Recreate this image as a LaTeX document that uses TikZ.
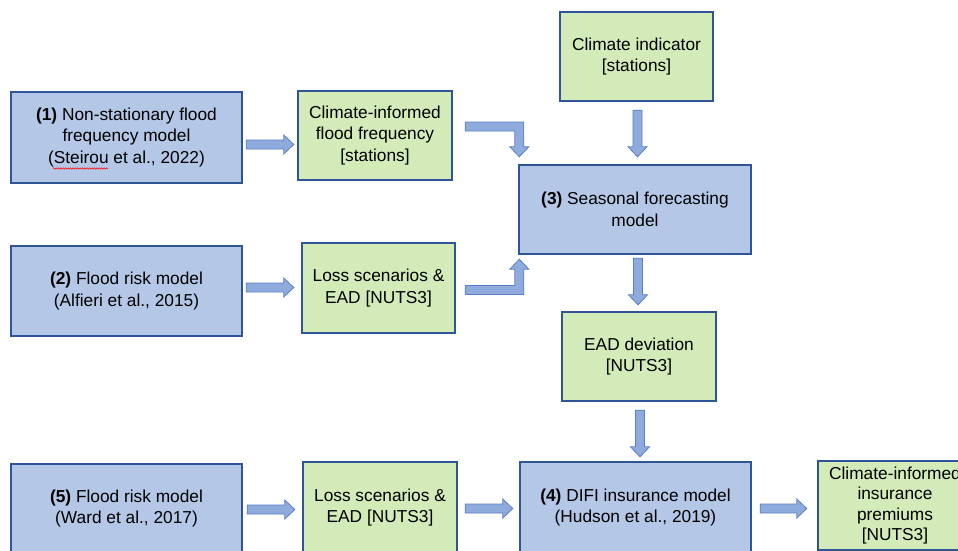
\documentclass[tikz,border=0pt]{standalone}
\usepackage{fontspec}
\setmainfont{Liberation Sans}
\usetikzlibrary{calc,decorations.pathmorphing}
\definecolor{bluefill}{HTML}{B4C7E7}
\definecolor{blueline}{HTML}{2F5597}
\definecolor{greenfill}{HTML}{D3EBB8}
\definecolor{arrowfill}{HTML}{8FAADC}
\definecolor{arrowline}{HTML}{5A7EC6}
\tikzset{
  box/.style={draw=blueline, line width=2.4pt, rectangle, align=center, inner sep=0pt,
    font=\fontsize{17.3}{21.5}\selectfont},
  bluebox/.style={box, fill=bluefill},
  greenbox/.style={box, fill=greenfill},
  barrow/.style={fill=arrowfill, draw=arrowline, line width=0.8pt, line join=miter},
}
% horizontal block arrow: #1 start on axis, #2 tip (x used)
\newcommand\harrow[2]{%
  \filldraw[barrow] let \p1=(#1), \p2=(#2) in
   (\x1,\y1+4.5pt) -- (\x2-10pt,\y1+4.5pt) -- (\x2-10pt,\y1+9.5pt) -- (\x2,\y1)
   -- (\x2-10pt,\y1-9.5pt) -- (\x2-10pt,\y1-4.5pt) -- (\x1,\y1-4.5pt) -- cycle;}
% vertical block arrow down: #1 start on axis, #2 tip (y used)
\newcommand\varrow[2]{%
  \filldraw[barrow] let \p1=(#1), \p2=(#2) in
   (\x1-4.5pt,\y1) -- (\x1-4.5pt,\y2+10pt) -- (\x1-9.5pt,\y2+10pt) -- (\x1,\y2)
   -- (\x1+9.5pt,\y2+10pt) -- (\x1+4.5pt,\y2+10pt) -- (\x1+4.5pt,\y1) -- cycle;}
% elbow arrow: right then down
\newcommand\earrowdown[2]{%
  \filldraw[barrow] let \p1=(#1), \p2=(#2) in
   (\x1,\y1+4.5pt) -- (\x2+4.5pt,\y1+4.5pt) -- (\x2+4.5pt,\y2+10pt) -- (\x2+9.5pt,\y2+10pt)
   -- (\x2,\y2) -- (\x2-9.5pt,\y2+10pt) -- (\x2-4.5pt,\y2+10pt) -- (\x2-4.5pt,\y1-4.5pt)
   -- (\x1,\y1-4.5pt) -- cycle;}
% elbow arrow: right then up
\newcommand\earrowup[2]{%
  \filldraw[barrow] let \p1=(#1), \p2=(#2) in
   (\x1,\y1-4.5pt) -- (\x2+4.5pt,\y1-4.5pt) -- (\x2+4.5pt,\y2-10pt) -- (\x2+9.5pt,\y2-10pt)
   -- (\x2,\y2) -- (\x2-9.5pt,\y2-10pt) -- (\x2-4.5pt,\y2-10pt) -- (\x2-4.5pt,\y1+4.5pt)
   -- (\x1,\y1+4.5pt) -- cycle;}
\begin{document}
\begin{tikzpicture}[x=1pt,y=-1pt]
\useasboundingbox (0,0) rectangle (958,550);
\fill[white] (0,0) rectangle (958,550);
\clip (0,0) rectangle (958,550);

\node[bluebox, minimum width=231pt, minimum height=91pt] (m1) at (126.5,137.5)
  {\textbf{(1)} Non-stationary flood\\frequency model\\(Steirou et al., 2022)};
\node[greenbox, minimum width=154pt, minimum height=89pt] (ci1) at (375,135.5)
  {Climate-informed\\flood frequency\\{[stations]}};
\node[greenbox, minimum width=153pt, minimum height=89pt] (cind) at (636.5,56.5)
  {Climate indicator\\{[stations]}};
\node[bluebox, minimum width=232pt, minimum height=89pt] (m3) at (635,209.5)
  {\textbf{(3)} Seasonal forecasting\\model};
\node[bluebox, minimum width=231pt, minimum height=90pt] (m2) at (126.5,291)
  {\textbf{(2)} Flood risk model\\(Alfieri et al., 2015)};
\node[greenbox, minimum width=153pt, minimum height=90pt] (ls1) at (378.5,288)
  {Loss scenarios \&\\EAD [NUTS3]};
\node[greenbox, minimum width=154pt, minimum height=89pt] (ead) at (639,356.5)
  {EAD deviation\\{[NUTS3]}};
\node[bluebox, minimum width=231pt, minimum height=89pt] (m5) at (126.5,508.5)
  {\textbf{(5)} Flood risk model\\(Ward et al., 2017)};
\node[greenbox, minimum width=154pt, minimum height=91pt] (ls2) at (380,507.5)
  {Loss scenarios \&\\EAD [NUTS3]};
\node[bluebox, minimum width=231pt, minimum height=91pt] (m4) at (635.5,507.5)
  {\textbf{(4)} DIFI insurance model\\(Hudson et al., 2019)};
\node[greenbox, minimum width=154pt, minimum height=89pt,
  font=\fontsize{17.3}{20.3}\selectfont] (prem) at (895,505.5)
  {Climate-informed\\insurance\\premiums\\{[NUTS3]}};

% spell-check squiggle under "Steirou"
\draw[red, line width=0.5pt, decorate, decoration={snake, amplitude=0.7pt, segment length=2.4pt}]
  (53,168.5) -- (108,168.5);

% connectors
\coordinate (a1s) at ([xshift=3pt,yshift=-7pt]m1.east);
\coordinate (a1e) at ([xshift=-3pt]ci1.west);
\harrow{a1s}{a1e}
\coordinate (a2s) at ([xshift=3pt,yshift=3.5pt]m2.east);
\coordinate (a2e) at ([xshift=-7pt]ls1.west);
\harrow{a2s}{a2e}
\coordinate (a5s) at ([xshift=4pt,yshift=-1pt]m5.east);
\coordinate (a5e) at ([xshift=-7pt]ls2.west);
\harrow{a5s}{a5e}
\coordinate (a6s) at ([xshift=7pt,yshift=-1pt]ls2.east);
\coordinate (a6e) at ([xshift=-6pt]m4.west);
\harrow{a6s}{a6e}
\coordinate (a7s) at ([xshift=8pt,yshift=-1pt]m4.east);
\coordinate (a7e) at ([xshift=-10pt]prem.west);
\harrow{a7s}{a7e}

\coordinate (v1s) at ([xshift=1pt,yshift=-8pt]cind.south);
\coordinate (v1e) at ([yshift=7pt]m3.north);
\varrow{v1s}{v1e}
\coordinate (v2s) at ([xshift=3pt,yshift=-3pt]m3.south);
\coordinate (v2e) at ([yshift=6pt]ead.north);
\varrow{v2s}{v2e}
\coordinate (v3s) at ([xshift=1pt,yshift=-8pt]ead.south);
\coordinate (v3e) at ([yshift=4pt]m4.north);
\varrow{v3s}{v3e}

\coordinate (e1s) at ([xshift=12pt,yshift=9pt]ci1.east);
\coordinate (e1e) at ([xshift=1.5pt,yshift=7pt]m3.north west);
\earrowdown{e1s}{e1e}
\coordinate (e2s) at ([xshift=9pt,yshift=-2pt]ls1.east);
\coordinate (e2e) at ([xshift=1.5pt,yshift=-4pt]m3.south west);
\earrowup{e2s}{e2e}
\end{tikzpicture}
\end{document}
